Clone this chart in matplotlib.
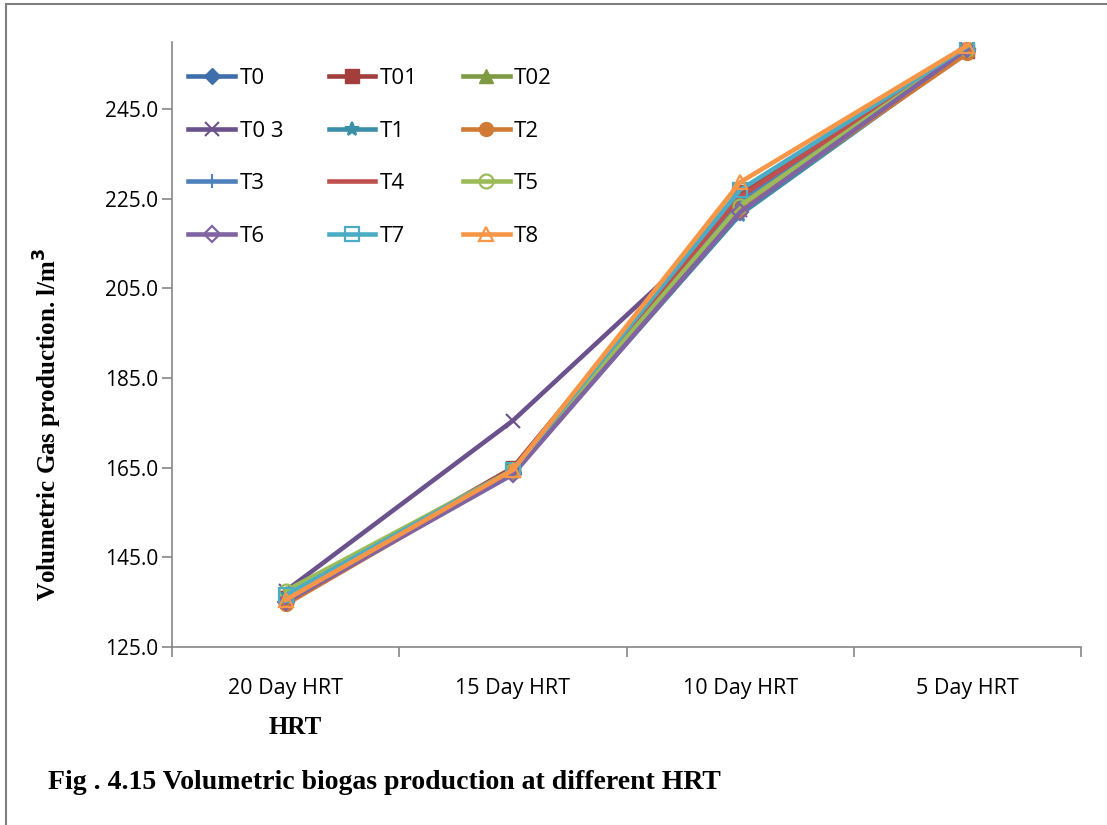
import numpy as np
import matplotlib.pyplot as plt
from matplotlib.patches import Rectangle

# HRT stages on the x axis
hrt = ['20 Day HRT', '15 Day HRT', '10 Day HRT', '5 Day HRT']

# volumetric gas production, l/m3, per treatment
T0 = [136.0, 164.0, 224.0, 258.0]
T01 = [136.0, 165.0, 226.5, 258.0]
T02 = [137.0, 164.5, 224.0, 258.5]
T03 = [137.5, 175.5, 222.5, 258.5]
T1 = [136.5, 164.0, 221.5, 258.0]
T2 = [134.5, 164.0, 222.5, 257.5]
T3 = [136.0, 164.0, 224.5, 258.5]
T4 = [136.0, 164.5, 225.5, 258.5]
T5 = [137.5, 164.5, 223.5, 258.5]
T6 = [135.0, 163.5, 222.0, 258.5]
T7 = [136.5, 164.5, 227.0, 259.0]
T8 = [135.5, 164.5, 228.7, 259.2]

series = [
    ('T0', T0, '#3F6FAA', 'D', True),
    ('T01', T01, '#A23F3C', 's', True),
    ('T02', T02, '#7E9B44', '^', True),
    ('T0 3', T03, '#6B528C', 'x', True),
    ('T1', T1, '#3A90A8', '*', True),
    ('T2', T2, '#D07A35', 'o', True),
    ('T3', T3, '#4F81BD', '|', True),
    ('T4', T4, '#C0504D', '_', True),
    ('T5', T5, '#9BBB59', 'o', False),
    ('T6', T6, '#8064A2', 'D', False),
    ('T7', T7, '#4BACC6', 's', False),
    ('T8', T8, '#F79646', '^', False),
]

fig = plt.figure(figsize=(11.07, 8.25), dpi=100)
ax = fig.add_axes([0.1554, 0.2158, 0.8211, 0.7333])

x = np.arange(len(hrt))
handles = []
for name, vals, col, mk, filled in series:
    ms = 10
    if mk == 'D':
        ms = 8
    if mk in ('x', '*', '|'):
        kw = dict(markeredgewidth=1.5, markeredgecolor=col)
    elif filled:
        kw = dict(markerfacecolor=col, markeredgecolor=col)
    else:
        kw = dict(markerfacecolor='none', markeredgecolor=col, markeredgewidth=1.6)
    ln, = ax.plot(x, vals, color=col, lw=3.3, marker=mk, ms=ms, label=name, **kw)
    handles.append(ln)

ax.set_xlim(-0.5, 3.5)
ax.set_ylim(125, 260)
ax.set_yticks(np.arange(125, 261, 20))
ax.set_yticklabels(['%.1f' % v for v in np.arange(125, 261, 20)])
ax.set_xticks(x)
ax.set_xticklabels(hrt)
ax.set_xticks(np.arange(-0.5, 3.6, 1), minor=True)
ax.tick_params(axis='x', which='major', length=0, pad=22)
ax.tick_params(axis='x', which='minor', length=7, color='#868686', width=1.2)
ax.tick_params(axis='y', length=7, color='#868686', width=1.2, pad=3)
for lab in ax.get_xticklabels():
    lab.set_family('Open Sans')
    lab.set_fontsize(15.5)
for lab in ax.get_yticklabels():
    lab.set_family('Open Sans')
    lab.set_fontsize(15)
for s in ['top', 'right']:
    ax.spines[s].set_visible(False)
for s in ['left', 'bottom']:
    ax.spines[s].set_color('#868686')
    ax.spines[s].set_linewidth(1.2)

# legend fills by columns, so reorder to read across rows
order = [0, 3, 6, 9, 1, 4, 7, 10, 2, 5, 8, 11]
ax.legend([handles[i] for i in order], [series[i][0] for i in order],
          loc='upper left', bbox_to_anchor=(-0.004, 0.99), ncol=3, frameon=False,
          handlelength=2.1, columnspacing=2.05, labelspacing=1.42, handletextpad=0.2,
          prop={'family': 'Open Sans', 'size': 16})

fig.text(0.043, 0.486, 'Volumetric Gas production. l/m$^\\mathbf{3}$', rotation=90,
         ha='center', va='center', family='Liberation Serif', weight='bold', fontsize=18)
fig.text(0.267, 0.118, 'HRT', ha='center', va='center',
         family='Liberation Serif', weight='bold', fontsize=18)
fig.text(0.043, 0.052, 'Fig . 4.15 Volumetric biogas production at different HRT',
         ha='left', va='center', family='Liberation Serif', weight='bold', fontsize=20)

# page frame
fig.patches.append(Rectangle((0.005, -0.1), 1.2, 1.095, transform=fig.transFigure,
                             fill=False, edgecolor='#7f7f7f', lw=1.5))

fig.savefig('out.png', dpi=100)
